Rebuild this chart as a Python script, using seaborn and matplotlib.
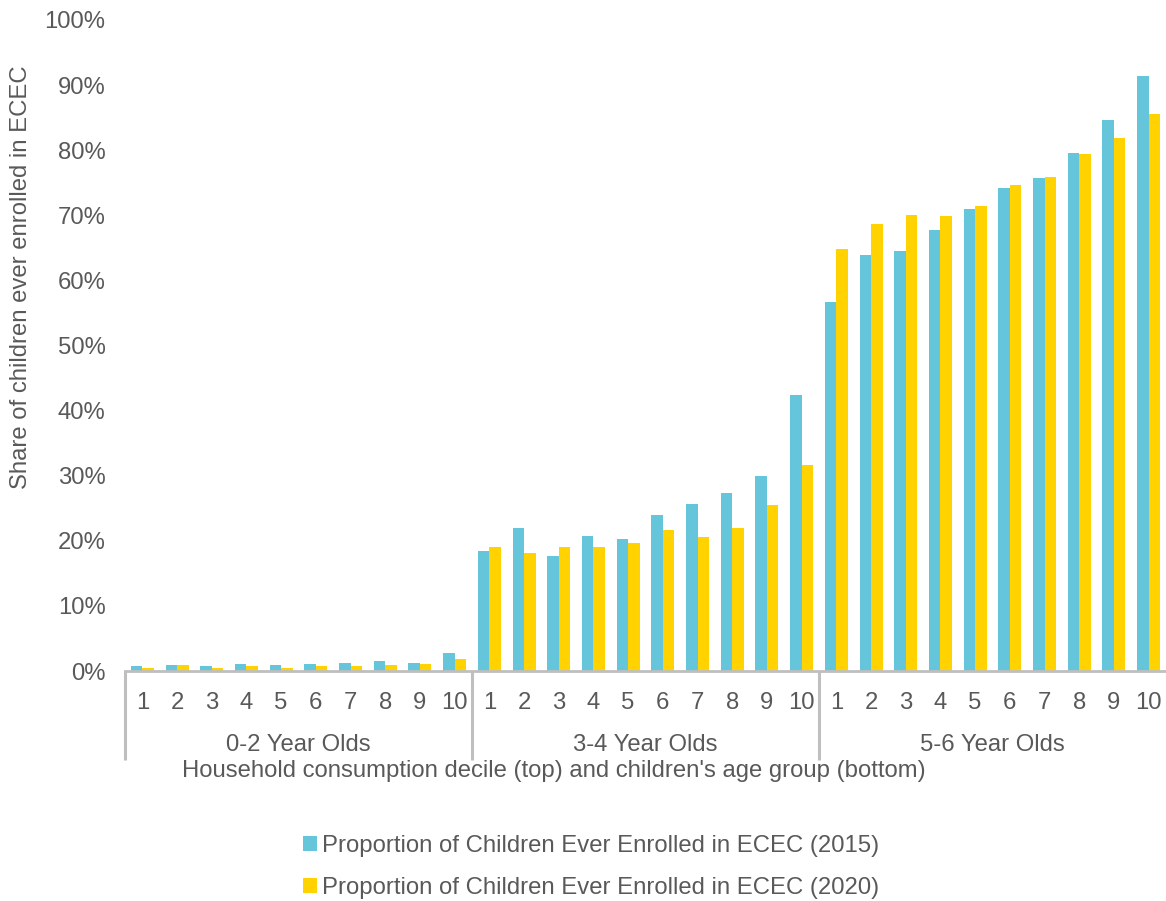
import matplotlib
matplotlib.use("Agg")
import matplotlib.pyplot as plt
import matplotlib.transforms as mtransforms
from matplotlib.patches import Patch
import numpy as np
import pandas as pd
import seaborn as sns

# Enrolment shares (%) by household consumption decile within each age group
age_groups = ["0-2 Year Olds", "3-4 Year Olds", "5-6 Year Olds"]
deciles = [str(d) for d in range(1, 11)]

enrolled_2015 = [
    0.8, 0.9, 0.8, 1.0, 0.9, 1.0, 1.3, 1.5, 1.3, 2.8,
    18.5, 21.9, 17.7, 20.7, 20.3, 24.0, 25.6, 27.3, 29.9, 42.4,
    56.7, 63.9, 64.5, 67.7, 71.0, 74.2, 75.7, 79.5, 84.7, 91.4,
]
enrolled_2020 = [
    0.5, 0.9, 0.5, 0.7, 0.4, 0.8, 0.7, 0.9, 1.1, 1.8,
    19.0, 18.2, 19.1, 19.0, 19.6, 21.6, 20.6, 22.0, 25.5, 31.6,
    64.8, 68.7, 70.0, 69.9, 71.5, 74.6, 75.9, 79.4, 81.9, 85.6,
]
series_labels = [
    "Proportion of Children Ever Enrolled in ECEC (2015)",
    "Proportion of Children Ever Enrolled in ECEC (2020)",
]
colors = ["#65C5DB", "#FFD200"]

# Long-form table: one row per (age group, decile, year)
slots = [f"{g}|{d}" for g in age_groups for d in deciles]
df = pd.DataFrame({
    "slot": slots * 2,
    "share": np.array(enrolled_2015 + enrolled_2020) / 100.0,
    "series": [series_labels[0]] * len(slots) + [series_labels[1]] * len(slots),
})

sns.set_theme(style="white")
plt.rcParams["font.family"] = ["Liberation Sans", "DejaVu Sans"]
text_color = "#595959"
axis_gray = "#BFBFBF"
fs = 17.2

fig = plt.figure(figsize=(11.66, 9.01), dpi=100)
ax = fig.add_axes([125 / 1166, (901 - 671) / 901, 1041 / 1166, 651 / 901])

sns.barplot(
    data=df, x="slot", y="share", hue="series", order=slots,
    hue_order=series_labels, palette=colors, width=0.66,
    saturation=1, linewidth=0, legend=False, ax=ax,
)

ax.set_xlim(-0.5, len(slots) - 0.5)
ax.set_ylim(0, 1.0)
ax.set_yticks(np.arange(0, 1.01, 0.1))
ax.set_yticklabels([f"{int(round(v * 100))}%" for v in np.arange(0, 1.01, 0.1)],
                   fontsize=fs, color=text_color)
ax.tick_params(axis="y", length=0, pad=14)
ax.tick_params(axis="x", length=0, pad=0)
ax.set_xticks(range(len(slots)))
ax.set_xticklabels([])
ax.set_xlabel("")

for side in ["top", "right", "left"]:
    ax.spines[side].set_visible(False)
ax.spines["bottom"].set_color(axis_gray)
ax.spines["bottom"].set_linewidth(2.0)

ax.set_ylabel("Share of children ever enrolled in ECEC", fontsize=fs, color=text_color)
ax.yaxis.set_label_coords(-0.089, 0.605)

trans = mtransforms.blended_transform_factory(ax.transData, ax.transAxes)

# Decile numbers under each bar pair
for i, s in enumerate(slots):
    ax.text(i, -0.049, s.split("|")[1], transform=trans, ha="center", va="center",
            fontsize=fs, color=text_color)

# Age-group labels and separators
n = len(deciles)
for gi, g in enumerate(age_groups):
    ax.text(gi * n + (n - 1) / 2, -0.113, g, transform=trans, ha="center",
            va="center", fontsize=fs, color=text_color)
for b in range(len(age_groups)):
    ax.plot([b * n - 0.5, b * n - 0.5], [0, -0.137], transform=trans,
            color=axis_gray, lw=2.2, clip_on=False, solid_capstyle="butt")

ax.text(11.85, -0.154,
        "Household consumption decile (top) and children's age group (bottom)",
        transform=trans, ha="center", va="center", fontsize=fs, color=text_color)

handles = [Patch(facecolor=c, edgecolor="none") for c in colors]
leg = fig.legend(handles, series_labels, loc="center", bbox_to_anchor=(0.507, 0.038),
                 frameon=False, fontsize=fs, handlelength=0.6, handleheight=0.6,
                 handletextpad=0.2, labelspacing=0.85, labelcolor=text_color)

fig.savefig("out.png", dpi=100)
